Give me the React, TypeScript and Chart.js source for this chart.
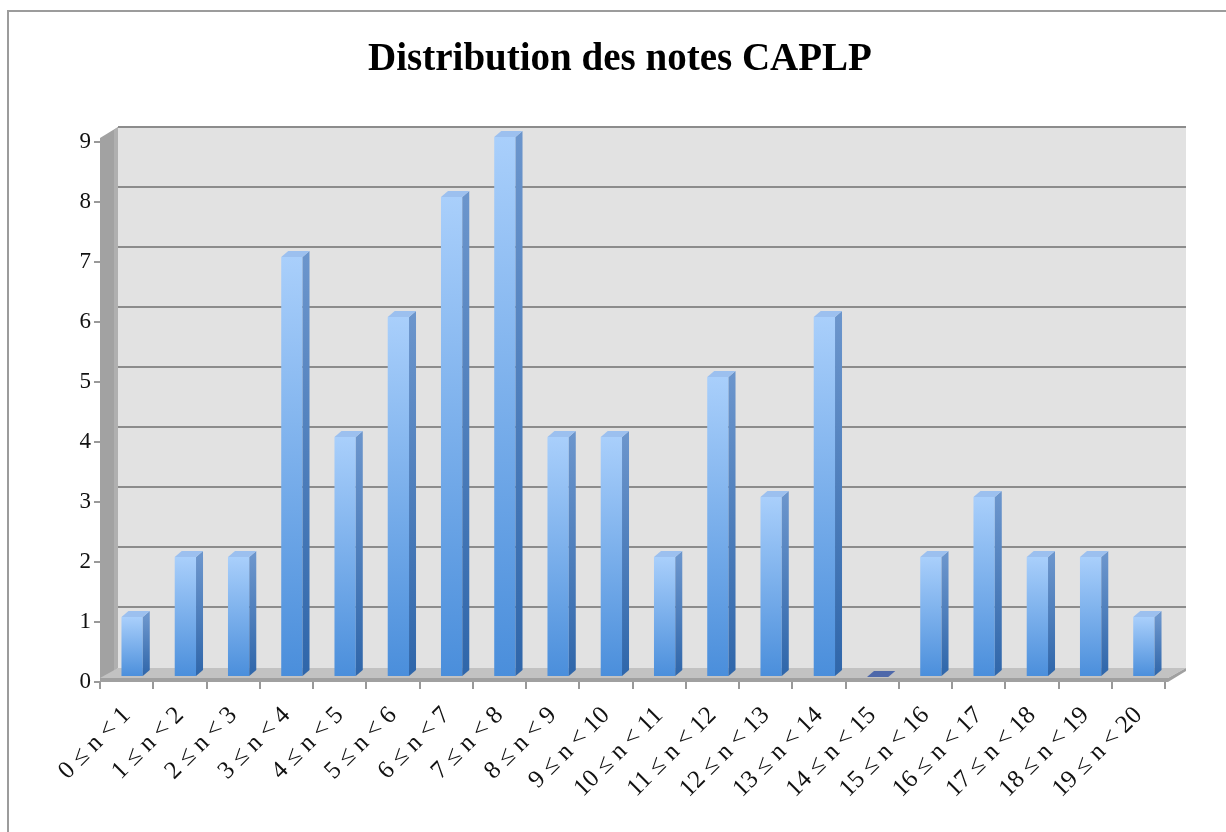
import React, { useEffect, useRef } from 'react';
import { Chart, registerables } from 'chart.js';

Chart.register(...registerables);

const chartTitle = 'Distribution des notes CAPLP';
const categories = [
  '0 ≤ n < 1', '1 ≤ n < 2', '2 ≤ n < 3', '3 ≤ n < 4', '4 ≤ n < 5',
  '5 ≤ n < 6', '6 ≤ n < 7', '7 ≤ n < 8', '8 ≤ n < 9', '9 ≤ n < 10',
  '10 ≤ n < 11', '11 ≤ n < 12', '12 ≤ n < 13', '13 ≤ n < 14', '14 ≤ n < 15',
  '15 ≤ n < 16', '16 ≤ n < 17', '17 ≤ n < 18', '18 ≤ n < 19', '19 ≤ n < 20',
];
const counts = [1, 2, 2, 7, 4, 6, 8, 9, 4, 4, 2, 5, 3, 6, 0, 2, 3, 2, 2, 1];
const yMin = 0;
const yMax = 9;
const yStep = 1;

// 3D look parameters
const BAR_DX = 5.5;
const BAR_DY = -5;
const SIDE_DX = 7;
const SIDE_DY = -6;
const WALL_DX = 18;
const WALL_DY = -15;

const decorPlugin = {
  id: 'decor3d',
  beforeDraw(chart: any) {
    const ctx = chart.ctx;
    const { left: L, right: R } = chart.chartArea;
    const ys = chart.scales.y;
    const y0 = ys.getPixelForValue(yMin);
    const y9 = ys.getPixelForValue(yMax);
    ctx.save();
    ctx.fillStyle = '#ffffff';
    ctx.fillRect(0, 0, chart.width, chart.height);
    // outer frame
    ctx.fillStyle = '#9c9c9c';
    ctx.fillRect(7, 10, 2, chart.height);
    ctx.fillRect(7, 10, chart.width, 2);
    // back wall
    const bl = L + WALL_DX;
    const br = R + WALL_DX + 3;
    ctx.fillStyle = '#e2e2e2';
    ctx.fillRect(bl, y9 + WALL_DY, br - bl, y0 - y9 + 1);
    // gridlines on back wall
    ctx.strokeStyle = '#8c8c8c';
    ctx.lineWidth = 2;
    for (let v = yMin + yStep; v <= yMax; v += yStep) {
      const y = Math.round(ys.getPixelForValue(v) + WALL_DY);
      ctx.beginPath();
      ctx.moveTo(bl, y);
      ctx.lineTo(br, y);
      ctx.stroke();
    }
    // left wall
    ctx.fillStyle = '#a2a2a2';
    ctx.beginPath();
    ctx.moveTo(L, y9 - 4);
    ctx.lineTo(bl, y9 + WALL_DY);
    ctx.lineTo(bl, y0 + WALL_DY + 1);
    ctx.lineTo(L, y0);
    ctx.closePath();
    ctx.fill();
    ctx.fillStyle = '#b0b0b0';
    ctx.beginPath();
    ctx.moveTo(bl - 4, y9 + WALL_DY + 3);
    ctx.lineTo(bl, y9 + WALL_DY);
    ctx.lineTo(bl, y0 + WALL_DY + 1);
    ctx.lineTo(bl - 4, y0 + WALL_DY + 4);
    ctx.closePath();
    ctx.fill();
    // floor top
    ctx.fillStyle = '#c2c2c2';
    ctx.beginPath();
    ctx.moveTo(L, y0 - 4);
    ctx.lineTo(bl, y0 + WALL_DY + 1);
    ctx.lineTo(br, y0 + WALL_DY + 1);
    ctx.lineTo(R + 3, y0 - 4);
    ctx.closePath();
    ctx.fill();
    // floor front edge
    ctx.fillStyle = '#a0a0a0';
    ctx.beginPath();
    ctx.moveTo(L, y0 - 4);
    ctx.lineTo(R + 3, y0 - 4);
    ctx.lineTo(br, y0 + WALL_DY + 1);
    ctx.lineTo(br, y0 + WALL_DY + 4);
    ctx.lineTo(R + 3, y0);
    ctx.lineTo(L, y0);
    ctx.closePath();
    ctx.fill();
    ctx.restore();
  },
  beforeDatasetsDraw(chart: any) {
    chart.ctx.save();
    chart.ctx.translate(BAR_DX, BAR_DY);
  },
  afterDatasetsDraw(chart: any) {
    const ctx = chart.ctx;
    const meta = chart.getDatasetMeta(0);
    meta.data.forEach((el: any, i: number) => {
      const { x, y, base, width } = el.getProps(['x', 'y', 'base', 'width'], true);
      const x0 = x - width / 2;
      const x1 = x + width / 2;
      const zero = counts[i] === 0;
      if (!zero) {
        const g = ctx.createLinearGradient(0, y, 0, base);
        g.addColorStop(0, '#6b95cc');
        g.addColorStop(1, '#2f66aa');
        ctx.fillStyle = g;
        ctx.beginPath();
        ctx.moveTo(x1, y);
        ctx.lineTo(x1 + SIDE_DX, y + SIDE_DY);
        ctx.lineTo(x1 + SIDE_DX, base + SIDE_DY);
        ctx.lineTo(x1, base);
        ctx.closePath();
        ctx.fill();
      }
      ctx.fillStyle = zero ? '#4e68aa' : '#9cc0ef';
      ctx.beginPath();
      ctx.moveTo(x0, y);
      ctx.lineTo(x0 + SIDE_DX, y + SIDE_DY);
      ctx.lineTo(x1 + SIDE_DX, y + SIDE_DY);
      ctx.lineTo(x1, y);
      ctx.closePath();
      ctx.fill();
    });
    ctx.restore();
  },
};

export default function App() {
  const canvasRef = useRef<HTMLCanvasElement | null>(null);

  useEffect(() => {
    const canvas = canvasRef.current;
    if (!canvas) return;
    const chart = new Chart(canvas, {
      type: 'bar',
      data: {
        labels: categories,
        datasets: [
          {
            data: counts,
            yAxisID: 'y',
            barPercentage: 0.4,
            categoryPercentage: 1,
            borderWidth: 0,
            backgroundColor: (c: any) => {
              const ch = c.chart;
              if (!ch.chartArea || c.type !== 'data') return '#6aa5ea';
              const ys = ch.scales.y;
              const top = ys.getPixelForValue(counts[c.dataIndex]);
              const bottom = ys.getPixelForValue(yMin);
              if (bottom - top < 1) return '#6aa5ea';
              const g = ch.ctx.createLinearGradient(0, top, 0, bottom);
              g.addColorStop(0, '#a9cffb');
              g.addColorStop(1, '#4a8edb');
              return g;
            },
          },
        ],
      },
      options: {
        animation: false,
        responsive: false,
        devicePixelRatio: 1,
        layout: { padding: { top: 0, right: 0, bottom: 0, left: 14 } },
        plugins: {
          legend: { display: false },
          tooltip: { enabled: false },
          title: {
            display: true,
            text: chartTitle,
            color: '#000000',
            font: { family: 'Liberation Serif', size: 39, weight: 'bold', lineHeight: 1.2 },
            padding: { top: 37, bottom: 58.2 },
          },
        },
        scales: {
          x: {
            afterFit: (s: any) => { s.height = 150; },
            border: { display: false },
            grid: {
              display: true,
              drawOnChartArea: false,
              drawTicks: true,
              tickLength: 7,
              color: '#999999',
              lineWidth: 2,
            },
            ticks: {
              autoSkip: false,
              minRotation: 45,
              maxRotation: 45,
              padding: 12,
              color: '#111111',
              font: { family: 'Liberation Serif', size: 25 },
            },
          },
          y: {
            min: yMin,
            max: yMax,
            position: 'left',
            afterFit: (s: any) => { s.width = 86; },
            border: { display: false },
            grid: {
              display: true,
              drawOnChartArea: false,
              drawTicks: true,
              tickLength: 6,
              color: '#999999',
              lineWidth: 2,
            },
            ticks: {
              stepSize: yStep,
              padding: 3,
              color: '#111111',
              font: { family: 'Liberation Serif', size: 23 },
            },
          },
          yRight: {
            type: 'linear',
            position: 'right',
            display: true,
            min: yMin,
            max: yMax,
            afterFit: (s: any) => { s.width = 61; },
            border: { display: false },
            grid: { display: false },
            ticks: { display: false },
          },
        },
      },
      plugins: [decorPlugin],
    } as any);
    return () => chart.destroy();
  }, []);

  return (
    <div style={{ position: 'absolute', left: 0, top: 0, width: 1226, height: 832 }}>
      <canvas ref={canvasRef} width={1226} height={832} style={{ display: 'block' }} />
    </div>
  );
}
